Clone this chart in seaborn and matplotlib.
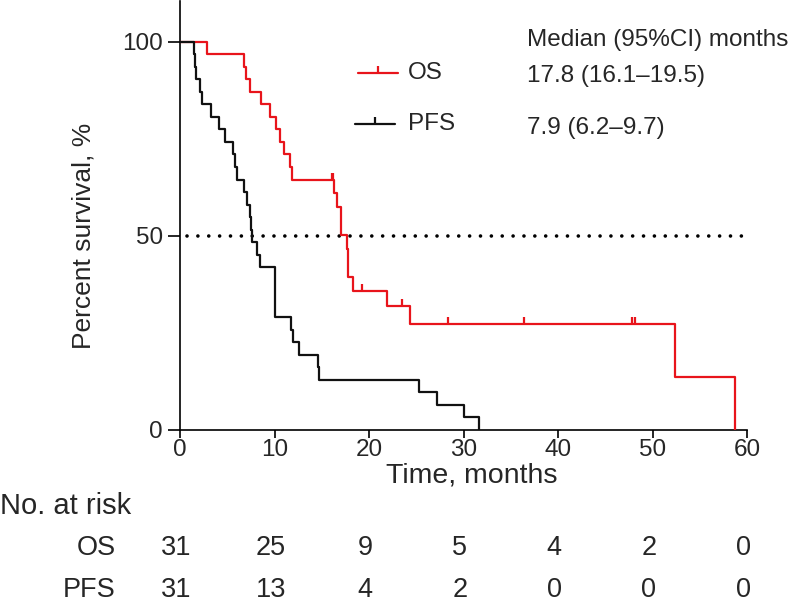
import numpy as np
import pandas as pd
import matplotlib
matplotlib.use("Agg")
import matplotlib.pyplot as plt
from matplotlib.path import Path
import seaborn as sns

# ---------------- data ----------------
os_time = [2.79, 6.74, 6.95, 7.38, 8.51, 9.49, 10.13, 10.55, 10.97, 11.61, 11.79,
           16.10, 16.15, 16.30, 16.55, 17.00, 17.00, 17.67, 17.78, 17.78, 18.31,
           19.26, 21.90, 23.43, 24.30, 28.36, 36.37, 47.80, 48.10, 52.30, 58.70]
os_event = [1, 1, 1, 1, 1, 1, 1, 1, 1, 1, 1,
            0, 0, 1, 1, 1, 1, 1, 1, 1, 1,
            0, 1, 0, 1, 0, 0, 0, 0, 1, 1]

pfs_time = [1.45, 1.56, 1.66, 2.08, 2.30, 3.25, 4.10, 4.73, 5.61, 5.79, 6.03,
            6.77, 7.03, 7.38, 7.48, 7.62, 8.08, 8.43, 10.00, 10.00, 10.00, 10.00,
            11.71, 11.90, 12.59, 14.60, 14.70, 25.26, 27.20, 30.05, 31.64]
pfs_event = [1] * 31

risk_times = [0, 10, 20, 30, 40, 50, 60]
os_at_risk = [31, 25, 9, 5, 4, 2, 0]
pfs_at_risk = [31, 13, 4, 2, 0, 0, 0]

groups = ["OS", "PFS"]
medians = ["17.8 (16.1\u201319.5)", "7.9 (6.2\u20139.7)"]
colors = {"OS": "#e8141b", "PFS": "#111111"}


def kaplan_meier(times, events):
    t = np.asarray(times, float)
    e = np.asarray(events, int)
    xs, ys = [0.0], [100.0]
    s = 1.0
    cens_t, cens_s = [], []
    for ut in np.unique(t):
        n = np.sum(t >= ut)
        d = np.sum((t == ut) & (e == 1))
        c = np.sum((t == ut) & (e == 0))
        if d > 0:
            s *= (n - d) / n
            xs.append(ut)
            ys.append(100 * s)
        if c > 0:
            cens_t.append(ut)
            cens_s.append(100 * s)
    return xs, ys, cens_t, cens_s


# ---------------- figure ----------------
sns.set_theme(style="ticks")
plt.rcParams["font.family"] = ["Liberation Sans", "DejaVu Sans"]
FS = 17.5
FT = 20.5

W, H = 800, 616
fig = plt.figure(figsize=(W / 100, H / 100), dpi=100)
x0, x1, y0, y1 = 180.3, 747.3, 430, 1
ax = fig.add_axes([x0 / W, 1 - y0 / H, (x1 - x0) / W, (y0 - y1) / H])

tick_marker = Path([(0, 0), (0, 1)])

frames = []
for g, tt, ee in [("OS", os_time, os_event), ("PFS", pfs_time, pfs_event)]:
    xs, ys, ct, cs = kaplan_meier(tt, ee)
    frames.append(pd.DataFrame({"time": xs, "surv": ys, "group": g}))
    ax.plot(ct, cs, ls="none", marker=tick_marker, ms=9.6, mew=1.6,
            color=colors[g], zorder=4)
km = pd.concat(frames, ignore_index=True)

sns.lineplot(data=km, x="time", y="surv", hue="group", palette=colors,
             estimator=None, sort=False, drawstyle="steps-post",
             linewidth=1.6, legend=False, ax=ax, zorder=3)

ax.axhline(50, xmin=0.012, xmax=1, color="black", lw=2.6,
           ls=(0, (0.01, 3.0)), dash_capstyle="round", zorder=2)

ax.set_xlim(0, 60)
ax.set_ylim(0, 110.5)
ax.set_xticks(risk_times)
ax.set_yticks([0, 50, 100])
ax.tick_params(axis="both", labelsize=FS, width=1.2, color="black")
ax.tick_params(axis="x", length=6, pad=0.5)
ax.tick_params(axis="y", length=8.5, pad=4)
for sp in ["top", "right"]:
    ax.spines[sp].set_visible(False)
for sp in ["left", "bottom"]:
    ax.spines[sp].set_linewidth(1.2)
    ax.spines[sp].set_color("black")
ax.set_xlabel("Time, months", fontsize=FT)
ax.set_ylabel("Percent survival, %", fontsize=19)
ax.xaxis.set_label_coords((472 - x0) / (x1 - x0), -0.075)
ax.yaxis.set_label_coords((95 - x0) / (x1 - x0), 50 / 110.5)

# legend (manual) and median text
def fx(px):
    return px / W

def fy(py):
    return 1 - py / H

for g, ly, lx0, lx1 in [("OS", 73, 358, 398), ("PFS", 124, 355, 395)]:
    fig.add_artist(plt.Line2D([fx(lx0), fx(lx1)], [fy(ly), fy(ly)],
                              color=colors[g], lw=1.6, transform=fig.transFigure))
    fig.add_artist(plt.Line2D([fx((lx0 + lx1) / 2)], [fy(ly)], ls="none",
                              marker=tick_marker, ms=9.6, mew=1.6,
                              color=colors[g], transform=fig.transFigure))
    fig.text(fx(408), fy(ly), g, fontsize=FS, va="center", ha="left")

fig.text(fx(527), fy(40), "Median (95%CI) months", fontsize=FS, va="center", ha="left")
fig.text(fx(527), fy(76), medians[0], fontsize=FS, va="center", ha="left")
fig.text(fx(527), fy(128), medians[1], fontsize=FS, va="center", ha="left")

# number at risk table
fig.text(fx(0), fy(506), "No. at risk", fontsize=21, va="center", ha="left")
for g, row, ry in [("OS", os_at_risk, 548), ("PFS", pfs_at_risk, 590)]:
    fig.text(fx(116), fy(ry), g, fontsize=FT - 1, va="center", ha="right")
    for t, n in zip(risk_times, row):
        xpix = x0 + (x1 - x0) * t / 60
        fig.text(fx(xpix - 4), fy(ry), str(n), fontsize=FT - 1, va="center", ha="center")

fig.savefig("out.png", dpi=100)
